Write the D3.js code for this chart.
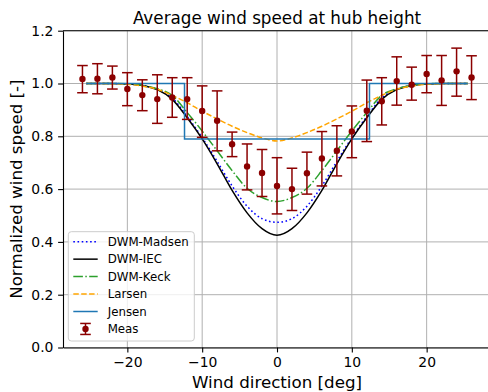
<!DOCTYPE html>
<html>
<head>
<meta charset="utf-8">
<script src="https://cdn.jsdelivr.net/npm/d3@7"></script>
<style>
  body { margin: 0; background: #fff; }
  svg { display: block; font-family: "DejaVu Sans", sans-serif; }
</style>
</head>
<body>
<svg width="488" height="392"></svg>
<script>
// measurements
const measDir = [-26, -24, -22, -20, -18, -16, -14, -12, -10, -8, -6, -4, -2, 0, 2, 4, 6, 8, 10, 12, 14, 16, 18, 20, 22, 24, 26]
const measU = [1.017, 1.018, 1.023, 0.979, 0.956, 0.941, 0.947, 0.941, 0.896, 0.859, 0.770, 0.686, 0.661, 0.612, 0.600, 0.660, 0.716, 0.745, 0.818, 0.897, 0.933, 1.009, 0.995, 1.036, 1.012, 1.046, 1.023]
const measLo = [0.965, 0.961, 0.979, 0.916, 0.897, 0.849, 0.872, 0.864, 0.796, 0.745, 0.723, 0.597, 0.572, 0.506, 0.519, 0.581, 0.612, 0.650, 0.719, 0.780, 0.843, 0.918, 0.937, 0.965, 0.917, 0.952, 0.939]
const measHi = [1.068, 1.075, 1.066, 1.041, 1.014, 1.033, 1.022, 1.022, 0.991, 0.972, 0.816, 0.771, 0.750, 0.719, 0.679, 0.740, 0.818, 0.840, 0.915, 1.013, 1.022, 1.101, 1.062, 1.106, 1.106, 1.134, 1.105]

// model curves
const modelDir = [-25.5, -24, -22, -20, -18, -16, -14, -12, -10, -8, -6, -4, -2, 0, 2, 4, 6, 8, 10, 12, 14, 16, 18, 20, 22, 24, 25.5]
const madsen = [1.0, 1.0, 1.0, 0.998, 0.993, 0.978, 0.945, 0.875, 0.795, 0.705, 0.612, 0.535, 0.488, 0.474, 0.488, 0.535, 0.612, 0.705, 0.795, 0.875, 0.945, 0.978, 0.993, 0.998, 1.0, 1.0, 1.0]
const iec = [1.0, 1.0, 1.0, 0.998, 0.992, 0.977, 0.94, 0.87, 0.79, 0.696, 0.595, 0.51, 0.45, 0.425, 0.45, 0.51, 0.595, 0.696, 0.79, 0.87, 0.94, 0.977, 0.992, 0.998, 1.0, 1.0, 1.0]
const keck = [1.0, 1.0, 1.0, 0.999, 0.993, 0.98, 0.955, 0.89, 0.82, 0.745, 0.67, 0.603, 0.568, 0.553, 0.568, 0.603, 0.67, 0.745, 0.82, 0.89, 0.955, 0.98, 0.993, 0.999, 1.0, 1.0, 1.0]
const larsen = [1.0, 1.0, 0.999, 0.997, 0.99, 0.978, 0.955, 0.927, 0.895, 0.866, 0.838, 0.814, 0.794, 0.782, 0.794, 0.814, 0.838, 0.866, 0.895, 0.927, 0.955, 0.978, 0.99, 0.997, 0.999, 1.0, 1.0]
const jensenDir = [-25.5, -12.36, -12.36, 12.36, 12.36, 25.5]
const jensen = [1.0, 1.0, 0.79, 0.79, 1.0, 1.0]

const xTicks = [-20, -10, 0, 10, 20]
const yTicks = [0, 0.2, 0.4, 0.6, 0.8, 1.0, 1.2]

const svg = d3.select('svg')
const mLeft = 63, mRight = 491, mTop = 30.7, mBottom = 347.5

const x = d3.scaleLinear().domain([-28.6, 28.6]).range([mLeft, mRight])
const y = d3.scaleLinear().domain([0, 1.2]).range([mBottom, mTop])

svg.append('rect').attr('width', 488).attr('height', 392).attr('fill', '#fff')

// grid
const grid = svg.append('g')
grid.selectAll('.gx').data(xTicks)
    .enter().append('line')
        .attr('x1', d => x(d)).attr('x2', d => x(d))
        .attr('y1', mTop).attr('y2', mBottom)
        .attr('stroke', '#b0b0b0').attr('stroke-width', 1)
grid.selectAll('.gy').data(yTicks)
    .enter().append('line')
        .attr('x1', mLeft).attr('x2', mRight)
        .attr('y1', d => y(d)).attr('y2', d => y(d))
        .attr('stroke', '#b0b0b0').attr('stroke-width', 1)

const smooth = d3.line()
    .x(d => x(d[0]))
    .y(d => y(d[1]))
    .curve(d3.curveMonotoneX)
const straight = d3.line()
    .x(d => x(d[0]))
    .y(d => y(d[1]))

const series = [
    { name: 'DWM-Madsen', dir: modelDir, val: madsen, color: 'blue', dash: '1.6,2.6' },
    { name: 'DWM-IEC', dir: modelDir, val: iec, color: 'black', dash: null },
    { name: 'DWM-Keck', dir: modelDir, val: keck, color: '#2ca02c', dash: '9.6,2.4,1.5,2.4' },
    { name: 'Larsen', dir: modelDir, val: larsen, color: 'orange', dash: '5.5,2.4' },
    { name: 'Jensen', dir: jensenDir, val: jensen, color: '#1f77b4', dash: null }
]

const plot = svg.append('g')
series.forEach(s => {
    const pts = s.dir.map((d, i) => [d, s.val[i]])
    plot.append('path')
        .attr('d', s.name === 'Jensen' ? straight(pts) : smooth(pts))
        .attr('fill', 'none')
        .attr('stroke', s.color)
        .attr('stroke-width', 1.5)
        .attr('stroke-dasharray', s.dash)
})

// measurements with error bars
const red = '#8b0000'
const meas = measDir.map((d, i) => ({ d, u: measU[i], lo: measLo[i], hi: measHi[i] }))
const eb = plot.selectAll('.eb').data(meas)
    .enter().append('g')
eb.append('line')
    .attr('x1', d => x(d.d)).attr('x2', d => x(d.d))
    .attr('y1', d => y(d.lo)).attr('y2', d => y(d.hi))
    .attr('stroke', red).attr('stroke-width', 1.5)
eb.append('line')
    .attr('x1', d => x(d.d) - 5.3).attr('x2', d => x(d.d) + 5.3)
    .attr('y1', d => y(d.lo)).attr('y2', d => y(d.lo))
    .attr('stroke', red).attr('stroke-width', 1.5)
eb.append('line')
    .attr('x1', d => x(d.d) - 5.3).attr('x2', d => x(d.d) + 5.3)
    .attr('y1', d => y(d.hi)).attr('y2', d => y(d.hi))
    .attr('stroke', red).attr('stroke-width', 1.5)
eb.append('circle')
    .attr('cx', d => x(d.d)).attr('cy', d => y(d.u))
    .attr('r', 3.2).attr('fill', red)

// axes
svg.append('g')
    .attr('transform', `translate(0,${mBottom})`)
    .call(d3.axisBottom(x).tickValues(xTicks).tickSize(4.9).tickPadding(4.5).tickSizeOuter(0))
svg.append('g')
    .attr('transform', `translate(${mLeft},0)`)
    .call(d3.axisLeft(y).tickValues(yTicks).tickFormat(d3.format('.1f')).tickSize(4.9).tickPadding(4.7).tickSizeOuter(0))
svg.selectAll('.tick text').attr('font-size', 13.9).attr('fill', '#000').attr('font-family', 'DejaVu Sans')
svg.selectAll('.domain, .tick line').attr('stroke', '#000').attr('stroke-width', 1.1)
svg.append('line').attr('x1', mLeft).attr('x2', mRight).attr('y1', mTop).attr('y2', mTop)
    .attr('stroke', '#000').attr('stroke-width', 1.1)
svg.append('line').attr('x1', mRight).attr('x2', mRight).attr('y1', mTop).attr('y2', mBottom)
    .attr('stroke', '#000').attr('stroke-width', 1.1)

// labels
svg.append('text')
    .attr('x', (mLeft + mRight) / 2).attr('y', 24)
    .attr('text-anchor', 'middle').attr('font-size', 16.8)
    .text('Average wind speed at hub height')
svg.append('text')
    .attr('x', (mLeft + mRight) / 2).attr('y', 388)
    .attr('text-anchor', 'middle').attr('font-size', 16.7)
    .text('Wind direction [deg]')
svg.append('text')
    .attr('transform', `translate(22,${(mTop + mBottom) / 2}) rotate(-90)`)
    .attr('text-anchor', 'middle').attr('font-size', 16.7)
    .text('Normalized wind speed [-]')

// legend
const legend = svg.append('g')
legend.append('rect')
    .attr('x', 68.3).attr('y', 231.7).attr('width', 126).attr('height', 109.3)
    .attr('rx', 3).attr('fill', '#fff').attr('fill-opacity', 0.8)
    .attr('stroke', '#cccccc').attr('stroke-width', 1)
const entries = series.map(s => s.name).concat(['Meas'])
const row = legend.selectAll('.row').data(entries)
    .enter().append('g')
        .attr('transform', (d, i) => `translate(0,${241.7 + i * 17.45})`)
row.each(function (d, i) {
    const g = d3.select(this)
    if (i < series.length) {
        g.append('line')
            .attr('x1', 73.3).attr('x2', 97.7)
            .attr('stroke', series[i].color).attr('stroke-width', 1.5)
            .attr('stroke-dasharray', series[i].dash)
    } else {
        g.append('line').attr('x1', 85.5).attr('x2', 85.5).attr('y1', -5.5).attr('y2', 5.5)
            .attr('stroke', red).attr('stroke-width', 1.5)
        g.append('line').attr('x1', 80.2).attr('x2', 90.8).attr('y1', -5.5).attr('y2', -5.5)
            .attr('stroke', red).attr('stroke-width', 1.5)
        g.append('line').attr('x1', 80.2).attr('x2', 90.8).attr('y1', 5.5).attr('y2', 5.5)
            .attr('stroke', red).attr('stroke-width', 1.5)
        g.append('circle').attr('cx', 85.5).attr('r', 3.2).attr('fill', red)
    }
    g.append('text')
        .attr('x', 107.7).attr('dy', '0.36em')
        .attr('font-size', 11.8)
        .text(d)
})
</script>
</body>
</html>
